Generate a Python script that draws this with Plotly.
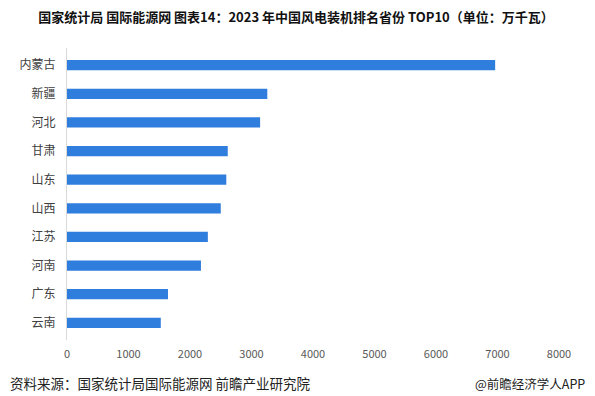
import plotly.graph_objects as go

provinces = ["内蒙古", "新疆", "河北", "甘肃", "山东", "山西", "江苏", "河南", "广东", "云南"]
capacity = [6962, 3257, 3140, 2614, 2590, 2500, 2290, 2178, 1642, 1525]
x_ticks = [0, 1000, 2000, 3000, 4000, 5000, 6000, 7000, 8000]

# page body has an 8px default margin, so the figure is offset by 8px
W, H = 587, 388
ML, MR, MT, MB = 59, 36, 40, 56
PW, PH = W - ML - MR, H - MT - MB

fig = go.Figure(go.Bar(
    y=provinces, x=capacity, orientation="h",
    marker=dict(color="#2F7DDC", line=dict(width=0)),
    width=0.36,
))

fig.update_layout(
    width=W, height=H,
    margin=dict(l=ML, r=MR, t=MT, b=MB),
    paper_bgcolor="white", plot_bgcolor="white",
    font=dict(family="Noto Sans CJK SC", color="#333"),
    showlegend=False,
    title=dict(
        text="<b>国家统计局 国际能源网 图表14：2023 年中国风电装机排名省份 TOP10（单位：万千瓦）</b>",
        x=(296 - 8) / W, xanchor="center", y=1 - 9 / H, yanchor="middle",
        font=dict(size=13, color="#111", family="Noto Sans CJK SC"),
    ),
    xaxis=dict(
        range=[0, 8000], tickvals=x_ticks, ticktext=[str(v) for v in x_ticks],
        showgrid=False, zeroline=False, showline=False, automargin=False,
        tickfont=dict(size=11, color="#595959"), ticks="", ticklabelstandoff=6,
    ),
    yaxis=dict(
        categoryorder="array", categoryarray=provinces[::-1], automargin=False,
        showgrid=False, zeroline=False, showline=True, linecolor="#D9D9D9", linewidth=1,
        tickfont=dict(size=12, color="#404040"), ticks="", ticklabelstandoff=8,
        range=[-0.6, 9.6],
    ),
    annotations=[
        dict(text="资料来源：国家统计局国际能源网 前瞻产业研究院", xref="paper", yref="paper",
             x=-(ML - 0) / PW, y=-43 / PH, xanchor="left", yanchor="middle", showarrow=False,
             font=dict(size=13.5, color="#222")),
        dict(text="@前瞻经济学人APP", xref="paper", yref="paper",
             x=(579 - ML) / PW, y=-43 / PH, xanchor="right", yanchor="middle", showarrow=False,
             font=dict(size=12.5, color="#222")),
    ],
)

fig.write_html("out.html")
